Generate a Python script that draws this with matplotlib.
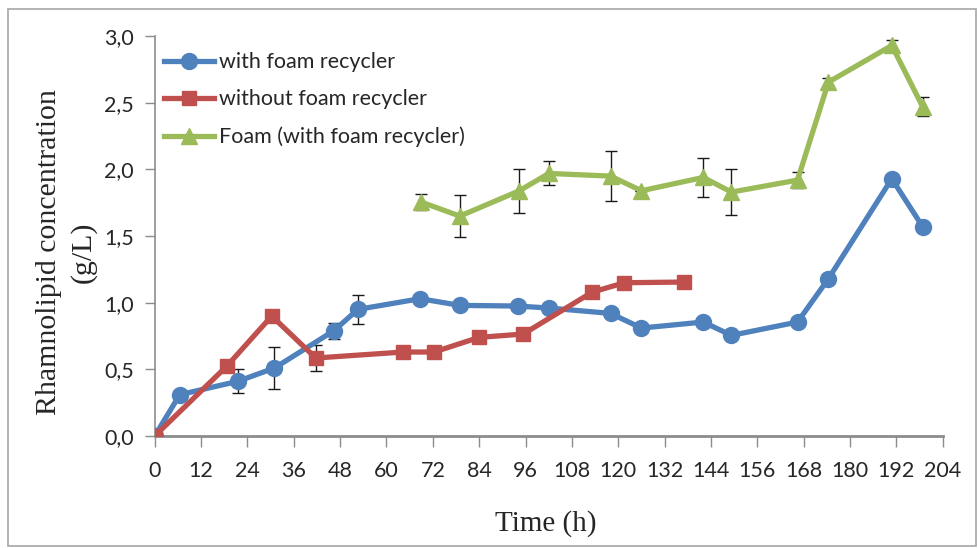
import matplotlib
matplotlib.use("Agg")
import matplotlib.pyplot as plt
from matplotlib.patches import Rectangle

# Rhamnolipid concentration (g/L) vs time (h)
t_with = [0, 6.5, 21.5, 31, 46.4, 52.6, 68.7, 79, 94, 102, 118, 126, 142, 149.3, 166.4, 174.4, 190.8, 198.8]
c_with = [0.0, 0.31, 0.41, 0.51, 0.79, 0.95, 1.03, 0.98, 0.975, 0.96, 0.92, 0.81, 0.855, 0.755, 0.855, 1.18, 1.93, 1.57]
e_with = [0.0, 0.03, 0.09, 0.16, 0.06, 0.11, 0.0, 0.0, 0.0, 0.0, 0.0, 0.0, 0.0, 0.0, 0.0, 0.0, 0.0, 0.0]

t_without = [0, 18.7, 30.3, 41.7, 64.3, 72.3, 84, 95.4, 113.3, 121.6, 137]
c_without = [0.0, 0.525, 0.9, 0.585, 0.63, 0.63, 0.74, 0.765, 1.08, 1.15, 1.155]
e_without = [0.0, 0.0, 0.0, 0.1, 0.0, 0.0, 0.0, 0.0, 0.0, 0.0, 0.0]

t_foam = [69, 79, 94.4, 102, 118, 126, 142, 149.3, 166.4, 174.4, 190.8, 198.8]
c_foam = [1.755, 1.65, 1.84, 1.97, 1.95, 1.84, 1.94, 1.83, 1.92, 2.655, 2.93, 2.47]
e_foam = [0.06, 0.16, 0.165, 0.09, 0.19, 0.0, 0.145, 0.17, 0.06, 0.03, 0.04, 0.07]

x_ticks = list(range(0, 205, 12))
y_ticks = [0.0, 0.5, 1.0, 1.5, 2.0, 2.5, 3.0]
y_labels = ["0,0", "0,5", "1,0", "1,5", "2,0", "2,5", "3,0"]

blue = "#4F81BD"
red = "#C0504D"
green = "#9BBB59"
grey = "#8C8C8C"
label_font = ["Lato", "DejaVu Sans"]
title_font = ["Liberation Serif", "DejaVu Serif"]

fig = plt.figure(figsize=(9.79, 5.48), dpi=100)
ax = fig.add_axes([0.158, 0.2044, 0.805, 0.7296])

# chart area border
fig.patches.append(Rectangle((8 / 979, 2 / 548), 968 / 979, 537 / 548,
                             transform=fig.transFigure, fill=False,
                             edgecolor="#A6A6A6", linewidth=1.2))

series = [
    (t_with, c_with, e_with, blue, "o", 11.5, "with foam recycler"),
    (t_without, c_without, e_without, red, "s", 10.5, "without foam recycler"),
    (t_foam, c_foam, e_foam, green, "^", 11.5, "Foam (with foam recycler)"),
]
for t, c, e, col, mk, ms, lab in series:
    ax.errorbar(t, c, yerr=e, fmt="none", ecolor="#1A1A1A", elinewidth=1.0,
                capsize=4, capthick=1.0, zorder=1.5)
    ax.plot(t, c, color=col, marker=mk, markersize=ms, linewidth=3.8,
            markeredgecolor=col, label=lab, zorder=2)

ax.set_xlim(0, 204)
ax.set_ylim(0, 3.0)
ax.set_xticks(x_ticks)
ax.set_xticklabels([str(v) for v in x_ticks], family=label_font, fontsize=15.5,
                   color="#262626")
ax.set_yticks(y_ticks)
ax.set_yticklabels(y_labels, family=label_font, fontsize=15.5, color="#262626")
ax.tick_params(axis="x", direction="out", length=8, width=1.0, color=grey, pad=10)
ax.tick_params(axis="y", direction="out", length=7, width=1.0, color=grey, pad=8)

for side in ["top", "right"]:
    ax.spines[side].set_visible(False)
ax.spines["left"].set_color(grey)
ax.spines["left"].set_linewidth(1.2)
ax.spines["bottom"].set_color(grey)
ax.spines["bottom"].set_linewidth(2.0)
ax.spines["left"].set_zorder(1)
ax.spines["bottom"].set_zorder(1)

fig.text(0.557, 0.045, "Time (h)", family=title_font, fontsize=21,
         ha="center", va="center", color="#262626")
fig.text(0.068, 0.54, "Rhamnolipid concentration\n(g/L)", family=title_font,
         fontsize=21.5, rotation=90, ha="center", va="center",
         multialignment="center", linespacing=1.4, color="#262626")

leg = ax.legend(loc="upper left", bbox_to_anchor=(0.012, 0.96), frameon=False,
                prop={"family": label_font, "size": 15.5}, handlelength=2.3,
                handletextpad=0.25, labelspacing=0.8, borderpad=0,
                borderaxespad=0)
for txt in leg.get_texts():
    txt.set_color("#262626")

fig.savefig("out.png", dpi=100)
